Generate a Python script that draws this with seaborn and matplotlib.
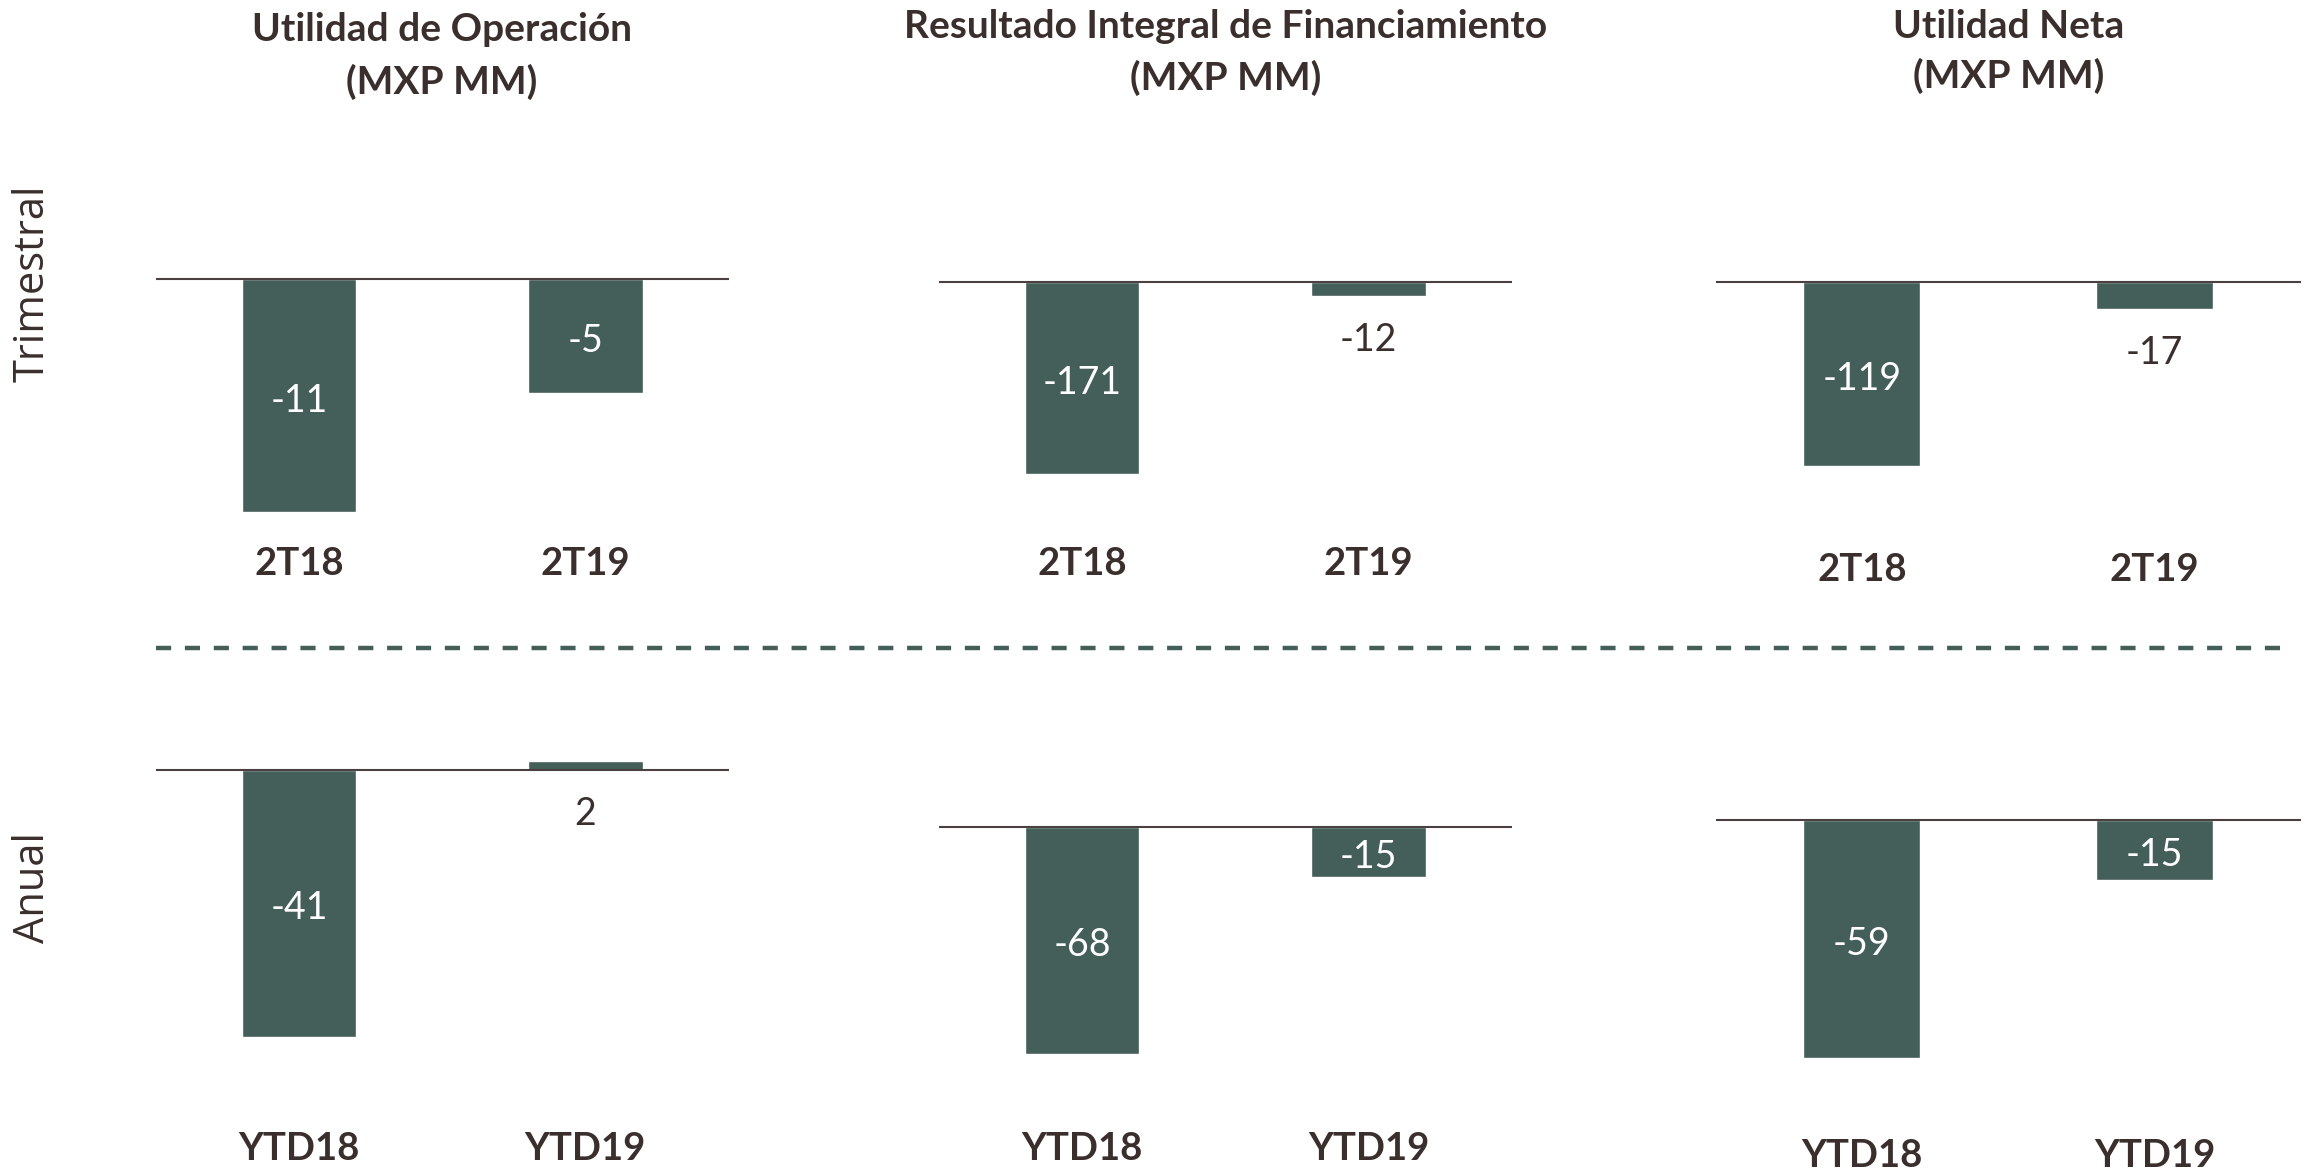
import matplotlib
matplotlib.use("Agg")
import matplotlib.pyplot as plt
import seaborn as sns
import pandas as pd
from matplotlib.lines import Line2D

# ---------------- data ----------------
titles = ["Utilidad de Operación", "Resultado Integral de Financiamiento", "Utilidad Neta"]
subtitle = "(MXP MM)"
row_names = ["Trimestral", "Anual"]
cats_trim = ["2T18", "2T19"]
cats_anual = ["YTD18", "YTD19"]

op_trim = [-10.6, -5.2]
op_trim_lbl = ["-11", "-5"]
rif_trim = [-171, -12]
rif_trim_lbl = ["-171", "-12"]
neta_trim = [-119, -17]
neta_trim_lbl = ["-119", "-17"]

op_anual = [-41, 1.4]
op_anual_lbl = ["-41", "2"]
rif_anual = [-68, -15]
rif_anual_lbl = ["-68", "-15"]
neta_anual = [-59, -15]
neta_anual_lbl = ["-59", "-15"]

# ---------------- style ----------------
BAR = "#445E59"
TXT = "#3A2F2D"
ZERO = "#4A4040"

sns.set_style("white")
plt.rcParams["font.family"] = ["Lato", "DejaVu Sans"]

W, H = 2310, 1172
fig = plt.figure(figsize=(W / 100, H / 100), dpi=100)


def add_ax(x0, x1, top, bottom):
    return fig.add_axes([x0 / W, 1 - bottom / H, (x1 - x0) / W, (bottom - top) / H])


col_x = [(155.6, 728.6), (938.8, 1511.7), (1715.5, 2301.0)]
row_tb = [(120, 530), (680, 1100)]
title_base = [(41, 94), (38, 90), (37.5, 88)]
label_pad_px = [[17, 17, 23], [32, 32, 39]]

# zero-line pixel y and pixel length of largest bar (layout)
zero_px = [[279.4, 282.4, 282.4], [770.0, 826.6, 819.6]]
big_px = [[232.3, 191.4, 183.7], [266.7, 226.9, 238.6]]

panels = [
    [(cats_trim, op_trim, op_trim_lbl), (cats_trim, rif_trim, rif_trim_lbl), (cats_trim, neta_trim, neta_trim_lbl)],
    [(cats_anual, op_anual, op_anual_lbl), (cats_anual, rif_anual, rif_anual_lbl), (cats_anual, neta_anual, neta_anual_lbl)],
]

for r in range(2):
    T, B = row_tb[r]
    for c in range(3):
        x0, x1 = col_x[c]
        ax = add_ax(x0, x1, T, B)
        cats, vals, lbls = panels[r][c]
        df = pd.DataFrame({"cat": cats, "val": vals})
        sns.barplot(data=df, x="cat", y="val", ax=ax, color=BAR, saturation=1,
                    width=0.4, order=cats)
        s = big_px[r][c] / max(abs(v) for v in vals)
        y0 = zero_px[r][c]
        ax.set_ylim((y0 - B) / s, (y0 - T) / s)
        ax.set_xlim(-0.5, 1.5)
        ax.axhline(0, color=ZERO, lw=1.5, zorder=3)
        for sp in ax.spines.values():
            sp.set_visible(False)
        ax.set_yticks([])
        ax.set_xlabel("")
        ax.set_ylabel("")
        ax.tick_params(axis="x", length=0, pad=label_pad_px[r][c] * 0.72,
                       labelsize=27.5, labelcolor=TXT)
        for t in ax.get_xticklabels():
            t.set_fontweight("bold")
        # value labels
        for i, (v, lab) in enumerate(zip(vals, lbls)):
            if abs(v) * s > 40:
                ax.annotate(lab, xy=(i, v / 2), xytext=(0, -5 * 0.72),
                            textcoords="offset points", ha="center", va="center",
                            color="white", fontsize=27)
            else:
                ax.annotate(lab, xy=(i, min(v, 0)), xytext=(0, -44 * 0.72),
                            textcoords="offset points", ha="center", va="center",
                            color=TXT, fontsize=27)
        if r == 0:
            cx = (x0 + x1) / 2 / W
            fig.text(cx, 1 - title_base[c][0] / H, titles[c], ha="center",
                     va="baseline", fontsize=28, fontweight="bold", color=TXT)
            fig.text(cx, 1 - title_base[c][1] / H, subtitle, ha="center",
                     va="baseline", fontsize=28, fontweight="bold", color=TXT)

# row labels
fig.text(33 / W, 1 - 283 / H, row_names[0], rotation=90, ha="center", va="center",
         fontsize=30, color=TXT, family=["Open Sans", "DejaVu Sans"])
fig.text(33 / W, 1 - 888 / H, row_names[1], rotation=90, ha="center", va="center",
         fontsize=30, color=TXT, family=["Open Sans", "DejaVu Sans"])

# dashed separator
fig.add_artist(Line2D([155.6 / W, 2288 / W], [1 - 647.8 / H, 1 - 647.8 / H],
                      transform=fig.transFigure, color=BAR, lw=3.2,
                      linestyle=(0, (3.4, 3.1))))

fig.savefig("out.png", dpi=100, facecolor="white")
